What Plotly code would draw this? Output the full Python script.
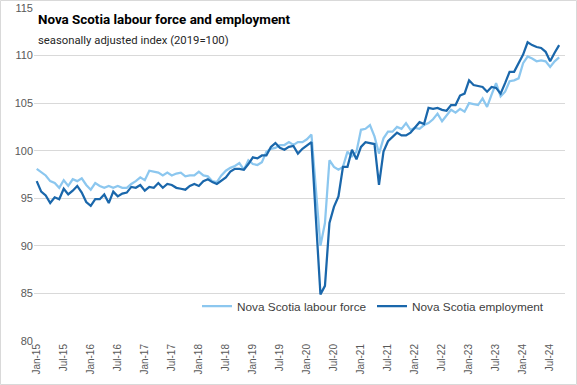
import plotly.graph_objects as go

months = ["Jan", "Feb", "Mar", "Apr", "May", "Jun", "Jul", "Aug", "Sep", "Oct", "Nov", "Dec"]
n_points = 117  # Jan-15 .. Sep-24
dates = [f"{months[i % 12]}-{15 + i // 12}" for i in range(n_points)]

labour_force = [
    98.1, 97.7, 97.4, 96.8, 96.6, 96.1, 96.9, 96.3, 97.0, 96.8, 97.1, 96.4,
    95.9, 96.6, 96.3, 96.1, 96.3, 96.1, 96.3, 96.1, 96.1, 96.5, 96.8, 97.2,
    96.9, 97.9, 97.8, 97.7, 97.4, 97.7, 97.4, 97.6, 97.7, 97.3, 97.4, 97.4,
    97.8, 97.4, 97.3, 96.8, 96.7, 97.4, 97.9, 98.2, 98.4, 98.7, 98.0, 99.0,
    98.6, 98.5, 98.8, 99.9, 100.2, 100.3, 100.6, 100.6, 100.9, 100.6, 100.9, 100.9,
    101.2, 101.7, 95.9, 90.0, 92.4, 99.0, 98.3, 98.0, 98.3, 99.9, 99.4, 99.9,
    102.2, 102.3, 102.7, 101.5, 99.7, 101.3, 102.0, 102.0, 102.5, 102.3, 102.9, 102.2,
    102.4, 102.3, 102.7, 102.9, 103.3, 103.9, 103.1, 103.7, 104.3, 104.0, 104.4, 104.1,
    105.0, 104.9, 104.8, 105.5, 104.6, 105.9, 107.1, 105.7, 106.2, 107.3, 107.4, 107.6,
    109.2, 109.9, 109.7, 109.4, 109.5, 109.4, 108.8, 109.4, 109.8,
]

employment = [
    96.8, 95.7, 95.3, 94.5, 95.1, 94.9, 96.0, 95.4, 95.8, 96.3, 95.6, 94.6,
    94.2, 94.9, 94.9, 95.4, 94.5, 95.7, 95.2, 95.5, 95.6, 96.2, 96.1, 96.4,
    95.8, 96.2, 96.1, 96.6, 96.1, 96.5, 96.4, 96.1, 96.0, 95.9, 96.3, 96.5,
    96.3, 96.8, 97.0, 96.7, 96.5, 96.9, 97.2, 97.8, 98.1, 98.1, 98.0, 98.6,
    99.3, 99.2, 99.5, 99.5, 100.4, 100.8, 100.3, 100.1, 100.4, 100.5, 99.7, 100.2,
    100.6, 100.9, 92.8, 84.9, 85.8, 92.4, 94.1, 95.2, 98.3, 98.3, 100.1, 99.1,
    100.4, 100.9, 100.8, 100.7, 96.4, 99.9, 101.0, 101.4, 101.9, 101.6, 101.6, 101.9,
    102.4, 103.0, 102.8, 104.5, 104.4, 104.5, 104.3, 104.2, 104.8, 104.8, 105.8, 106.0,
    107.4, 106.9, 106.8, 106.7, 106.2, 106.7, 106.6, 106.0, 107.1, 108.3, 108.3, 109.2,
    110.1, 111.4, 111.1, 110.9, 110.8, 110.4, 109.4, 110.3, 111.1,
]

tick_positions = list(range(0, n_points, 6))
tick_labels = [dates[i] for i in tick_positions]

title_text = "Nova Scotia labour force and employment"
subtitle_text = "seasonally adjusted index (2019=100)"
series_names = ["Nova Scotia labour force", "Nova Scotia employment"]
colors = ["#8cc7ef", "#1a67ab"]

x_idx = list(range(n_points))

fig = go.Figure()
fig.add_trace(go.Scatter(x=x_idx, y=labour_force, mode="lines", name=series_names[0],
                         line=dict(color=colors[0], width=2.25)))
fig.add_trace(go.Scatter(x=x_idx, y=employment, mode="lines", name=series_names[1],
                         line=dict(color=colors[1], width=2.25)))

W, H = 577, 385
L, R, T, B = 34, 12, 8, 44
pw, ph = W - L - R, H - T - B

fig.update_layout(
    width=W, height=H,
    margin=dict(l=L, r=R, t=T, b=B, autoexpand=False),
    paper_bgcolor="white", plot_bgcolor="white",
    showlegend=True,
    legend=dict(orientation="h", x=(197 - L) / pw, y=(H - B - 306) / ph,
                xanchor="left", yanchor="middle",
                font=dict(family="Liberation Sans", size=11.8, color="#404040"),
                bgcolor="rgba(0,0,0,0)", itemwidth=30, tracegroupgap=0,
                entrywidth=130, entrywidthmode="pixels"),
    xaxis=dict(range=[-0.6, 117.3], tickmode="array", tickvals=tick_positions,
               ticktext=tick_labels, tickangle=-90, showgrid=False, zeroline=False,
               showline=False, ticks="", ticklen=0, automargin=False,
               tickfont=dict(family="Liberation Sans", size=10, color="#595959")),
    yaxis=dict(range=[80, 115], dtick=5, showgrid=True, gridcolor="#d9d9d9", gridwidth=1,
               zeroline=False, showline=False, ticks="", automargin=False,
               tickfont=dict(family="Liberation Sans", size=11, color="#595959")),
    annotations=[
        dict(text=f"<b>{title_text}</b>", xref="paper", yref="paper",
             x=(36 - L) / pw, y=(H - B - 19) / ph, xanchor="left", yanchor="middle",
             showarrow=False, font=dict(family="Roboto", size=13.4, color="#000000")),
        dict(text=subtitle_text, xref="paper", yref="paper",
             x=(36 - L) / pw, y=(H - B - 40) / ph, xanchor="left", yanchor="middle",
             showarrow=False, font=dict(family="Roboto", size=11.3, color="#262626")),
    ],
    shapes=[
        dict(type="rect", xref="paper", yref="paper",
             x0=(0.5 - L) / pw, x1=(W - 0.5 - L) / pw,
             y0=-(B - 0.5) / ph, y1=1 + (T - 0.5) / ph,
             line=dict(color="#d9d9d9", width=1), fillcolor="rgba(0,0,0,0)", layer="below"),
    ],
)

fig.write_html("out.html", config={"displayModeBar": False},
               post_script="document.body.style.margin='0px';")
